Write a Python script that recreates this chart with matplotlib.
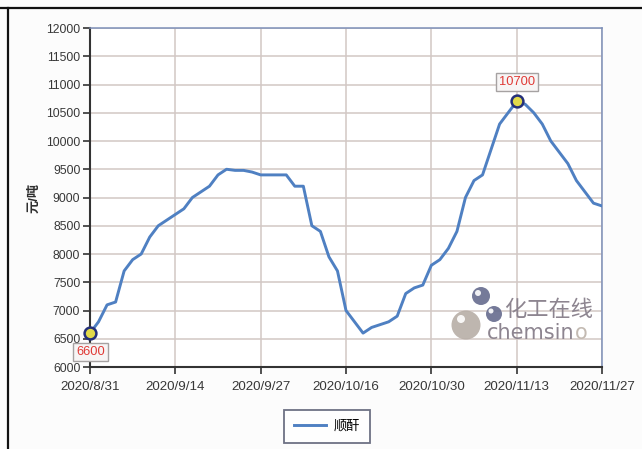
import matplotlib
matplotlib.use("Agg")
import matplotlib.pyplot as plt
from matplotlib.lines import Line2D
from matplotlib.patches import Ellipse

plt.rcParams['font.family'] = ['Liberation Sans', 'Noto Sans CJK SC', 'DejaVu Sans']

# Daily price of maleic anhydride (元/吨), one value per trading day
prices = [
    6600, 6800, 7100, 7150, 7700, 7900, 8000, 8300, 8500, 8600,
    8700, 8800, 9000, 9100, 9200, 9400, 9500, 9480, 9480, 9450,
    9400, 9400, 9400, 9400, 9200, 9200, 8500, 8400, 7950, 7700,
    7000, 6800, 6600, 6700, 6750, 6800, 6900, 7300, 7400, 7450,
    7800, 7900, 8100, 8400, 9000, 9300, 9400, 9850, 10300, 10500,
    10700, 10650, 10500, 10300, 10000, 9800, 9600, 9300, 9100, 8900,
    8850,
]
tick_labels = ["2020/8/31", "2020/9/14", "2020/9/27", "2020/10/16",
               "2020/10/30", "2020/11/13", "2020/11/27"]
tick_step = 10
series_name = "顺酐"
y_label = "元/吨"
y_ticks = list(range(6000, 12001, 500))

W, H = 642, 449
fig = plt.figure(figsize=(W / 100, H / 100), dpi=100, facecolor="#fcfcfc")

def fx(px):
    return px / W

def fy(py):
    return 1 - py / H

ax = fig.add_axes([fx(90), fy(367), fx(602) - fx(90), fy(28) - fy(367)])
ax.set_facecolor("white")

x = list(range(len(prices)))
line_color = "#4f80c2"
ax.plot(x, prices, color=line_color, lw=2.1, solid_joinstyle="round", zorder=3)

ax.set_xlim(0, len(prices) - 1)
ax.set_ylim(y_ticks[0], y_ticks[-1])
ax.set_yticks(y_ticks)
ax.set_xticks(range(0, len(prices), tick_step))
ax.set_xticklabels(tick_labels)

ax.grid(True, color="#d2c8c4", lw=1.1, zorder=0)
ax.set_axisbelow(True)

for side in ("left", "bottom"):
    ax.spines[side].set_color("#333333")
    ax.spines[side].set_linewidth(1.5)
for side in ("top", "right"):
    ax.spines[side].set_color("#7d8fb8")
    ax.spines[side].set_linewidth(1.1)

ax.tick_params(axis="both", direction="out", length=5, width=1.2,
               colors="#333333", labelcolor="#383838", pad=2)
ax.tick_params(axis="y", labelsize=8.7)
ax.tick_params(axis="x", labelsize=9.6, pad=5)

ax.set_ylabel(y_label, fontsize=9.5, color="#2e2e2e", labelpad=4,
              fontweight="bold")

# Start point and the peak, each with its value tag
i_start = 0
i_peak = prices.index(max(prices))
for i in (i_start, i_peak):
    ax.plot(i, prices[i], marker="o", ms=8.5, mfc="#e2da4a", mec="#24307a",
            mew=1.8, zorder=5, clip_on=False)

box = dict(boxstyle="square,pad=0.22", fc="#f7f5f5", ec="#a6a2a2", lw=1)
ax.annotate(f"{prices[i_start]}", (i_start, prices[i_start]),
            xytext=(0.5, -13.5), textcoords="offset points", ha="center",
            va="center", color="#e03a36", fontsize=9.3, bbox=box, zorder=6)
ax.annotate(f"{prices[i_peak]}", (i_peak, prices[i_peak]),
            xytext=(0, 14), textcoords="offset points", ha="center",
            va="center", color="#e03a36", fontsize=9.3, bbox=box, zorder=6)

# Legend below the plot
handle = Line2D([], [], color=line_color, lw=2.1)
leg = fig.legend([handle], [series_name], loc="center",
                 bbox_to_anchor=(fx(327), fy(426.5)), frameon=True,
                 fancybox=False, shadow=False, fontsize=9.5,
                 handlelength=2.4, handletextpad=0.6, borderpad=0.75,
                 borderaxespad=0)
leg.get_frame().set_edgecolor("#4a4f66")
leg.get_frame().set_linewidth(1.3)
leg.get_frame().set_facecolor("white")

# chemsino watermark
tr = fig.transFigure

def dot(cx, cy, r, color):
    fig.add_artist(Ellipse((fx(cx), fy(cy)), 2 * r / W, 2 * r / H,
                           transform=tr, fc=color, ec="none", alpha=0.9,
                           zorder=4))

dot(466, 325, 14.5, "#b7aea6")
dot(461, 319, 4, "white")
dot(481, 296, 9, "#666c8e")
dot(478, 293, 3, "white")
dot(494, 314, 8, "#666c8e")
dot(491, 311, 2.5, "white")
fig.text(fx(504), fy(309), "化工在线", transform=tr, ha="left", va="center",
         fontsize=16, color="#8d8590", family=["Noto Sans CJK SC"], zorder=4)
word = fig.text(fx(487), fy(333), "chemsin", transform=tr, ha="left",
                va="center", fontsize=15, color="#8d8590",
                family=["DejaVu Sans"], zorder=4)
fig.canvas.draw()
ext = word.get_window_extent()
fig.text(ext.x1 / W, fy(333), "o", transform=tr, ha="left", va="center",
         fontsize=15, color="#c3bab2", family=["DejaVu Sans"], zorder=4)

# Frame lines along the top and left edges
fig.add_artist(Line2D([0, 1], [fy(8), fy(8)], transform=tr, color="#111111", lw=1.6))
fig.add_artist(Line2D([fx(8), fx(8)], [0, fy(8)], transform=tr, color="#111111", lw=1.6))

fig.savefig("out.png", dpi=100, facecolor=fig.get_facecolor())
